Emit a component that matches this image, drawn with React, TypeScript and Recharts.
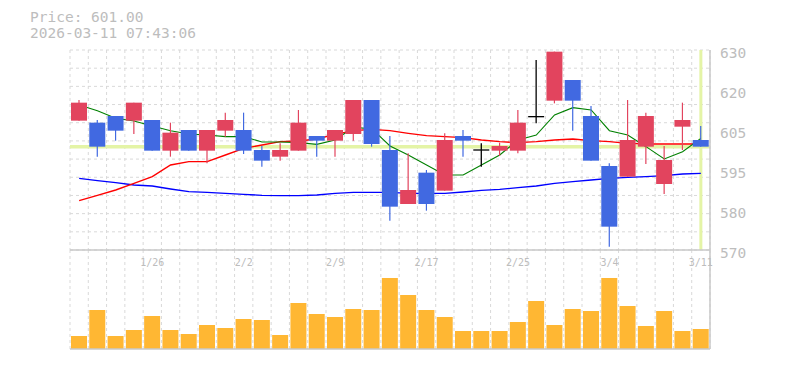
import React from "react";
import {
  Bar,
  CartesianGrid,
  ComposedChart,
  Line,
  ReferenceLine,
  XAxis,
  YAxis,
} from "recharts";

// 35 trading days, 1/20 – 3/11
const DATES = [
  "1/20", "1/21", "1/22", "1/23",
  "1/26", "1/27", "1/28", "1/29", "1/30",
  "2/2", "2/3", "2/4", "2/5", "2/6",
  "2/9", "2/10", "2/12", "2/13",
  "2/16", "2/17", "2/18", "2/19", "2/20",
  "2/24", "2/25", "2/26", "2/27",
  "3/2", "3/3", "3/4", "3/5", "3/6",
  "3/9", "3/10", "3/11",
];

const OPEN = [
  608.8, 608.2, 610.2, 608.8, 609, 599.8, 606, 599.8, 605.8, 606,
  600, 598, 599.8, 604.2, 602.8, 604.8, 615, 600, 583.8, 593.2,
  587.8, 604.2, 600, 599.8, 599.8, 610, 614.8, 621, 610.2, 595.2,
  592, 601, 589.8, 607, 603,
];
const HIGH = [
  615, 609, 610.2, 614.2, 609, 608.2, 606, 606, 611.2, 611.2,
  601.2, 602, 612, 604.2, 606, 615, 615, 604.2, 599, 594,
  605, 606, 602, 602.2, 612, 627, 629.5, 621, 613.2, 596,
  615, 611.2, 601.2, 614.2, 607.2,
];
const LOW = [
  608.8, 598, 602.8, 604.8, 599.8, 598, 599.8, 596, 604, 598.8,
  595, 596.8, 599.8, 598, 598, 602.8, 601, 578.8, 583.8, 581.8,
  587.8, 598, 595, 598.2, 599, 608, 614, 605.8, 596.8, 571,
  592, 595.8, 586.8, 600, 601,
];
const CLOSE = [
  614.2, 601, 605.8, 614.2, 599.8, 605.2, 599.8, 606, 609, 599.8,
  596.8, 600, 608.2, 602.8, 606, 615, 601.8, 583, 588, 583.8,
  603, 602.8, 600, 601.2, 608.2, 610, 629.5, 614.8, 596.8, 577,
  603, 610.2, 597, 609, 601,
];

// moving averages: short (green), mid (red), long (blue)
const MA_SHORT = [
  613.5, 611.8, 609.5, 608.7, 607.2, 605.8, 604.8, 604.5, 604, 604,
  602.4, 602.4, 602.2, 601.7, 603, 606.8, 606.4, 601.2, 598.5, 595.5,
  592.5, 592.5, 595.5, 598.5, 603, 604.5, 610.5, 612.7, 612, 605.8,
  604.5, 601, 597.3, 599.5, 603.5,
];
const MA_MID = [
  584.8, 586.4, 588, 590, 592, 595.5, 596.5, 596.5, 598.5, 600.5,
  601.5, 602.5, 602.7, 603.3, 604.7, 605.8, 606.2, 605.8, 605, 604.3,
  604, 603.7, 603, 602.5, 602.2, 602.5, 603, 603.3, 602.8, 602.5,
  602, 601.8, 601.8, 601.8, 601.8,
];
const MA_LONG = [
  591.5, 590.8, 590.2, 589.5, 589.2, 588.3, 587.5, 587.3, 587, 586.7,
  586.4, 586.3, 586.3, 586.5, 587, 587.3, 587.3, 587.3, 587, 587,
  587, 587.4, 587.9, 588.2, 588.7, 589.2, 590, 590.5, 591, 591.5,
  591.8, 592, 592.3, 592.8, 593,
];

const VOLUME = [
  13, 39, 13, 19, 33, 19, 15, 24, 21, 30,
  29, 14, 46, 35, 32, 40, 39, 71, 54, 39,
  32, 18, 18, 18, 27, 48, 24, 40, 38, 71,
  43, 23, 38, 18, 20,
];

const LAST_PRICE = 601;
const PRICE_TEXT = "Price: 601.00";
const TIME_TEXT = "2026-03-11 07:43:06";

const Y_TICKS = [570, 582, 594, 606, 618, 630];
const Y_TICK_LABELS = ["570", "580", "595", "605", "620", "630"];
const X_TICK_DATES = ["1/26", "2/2", "2/9", "2/17", "2/25", "3/4", "3/11"];

const PRICE_MIN = 570;
const PRICE_MAX = 630;

const data = DATES.map((d, i) => ({
  i,
  date: d,
  open: OPEN[i],
  high: HIGH[i],
  low: LOW[i],
  close: CLOSE[i],
  ma1: MA_SHORT[i],
  ma2: MA_MID[i],
  ma3: MA_LONG[i],
  vol: VOLUME[i],
}));

const X_TICKS = X_TICK_DATES.map((d) => DATES.indexOf(d));
const SLOT_EDGES = Array.from({ length: DATES.length + 1 }, (_, k) => k - 0.5);
const GRID_Y = Array.from(
  { length: 12 },
  (_, k) => PRICE_MIN + ((PRICE_MAX - PRICE_MIN) * k) / 11
);
const X_DOMAIN = [-0.5, DATES.length - 0.5];

const UP = "#e2445e";
const DOWN = "#4169e1";
const AXIS = "#c8c8c8";
const GRID = "#d9d9d9";
const LABEL = "#bdbdbd";
const CURRENT = "#e4f4a6";
const MONO = "'DejaVu Sans Mono', monospace";

const PRICE_MARGIN = { top: 50, right: 75, bottom: 25, left: 70 };

function Candle(props: any) {
  const { x, y, width, height, payload } = props;
  const { open, close, high, low } = payload;
  const top = Math.min(y, y + height);
  const span = Math.abs(height);
  const k = span / (high - low);
  const py = (v: number) => top + (high - v) * k;
  const cx = x + width / 2;

  if (open === close) {
    const yy = py(open);
    return (
      <g>
        <line x1={cx} x2={cx} y1={top} y2={top + span} stroke="#000" strokeWidth={1.3} />
        <line x1={x} x2={x + width} y1={yy} y2={yy} stroke="#000" strokeWidth={1.3} />
      </g>
    );
  }
  const color = close > open ? UP : DOWN;
  const bt = py(Math.max(open, close));
  const bb = py(Math.min(open, close));
  return (
    <g>
      <line x1={cx} x2={cx} y1={top} y2={top + span} stroke={color} strokeWidth={1.2} />
      <rect x={x} y={bt} width={width} height={Math.max(1, bb - bt)} fill={color} />
    </g>
  );
}

function PriceTick(props: any) {
  const { x, y, payload } = props;
  const idx = Y_TICKS.indexOf(payload.value);
  return (
    <text x={x + 10} y={y + 3} fill={LABEL} fontSize={14.5} fontFamily={MONO} dominantBaseline="central" textAnchor="start">
      {Y_TICK_LABELS[idx]}
    </text>
  );
}

function DateTick(props: any) {
  const { x, y, payload } = props;
  return (
    <text x={x} y={y + 12} fill={LABEL} fontSize={10} fontFamily={MONO} dominantBaseline="central" textAnchor="middle">
      {DATES[payload.value]}
    </text>
  );
}

export default function App() {
  return (
    <div style={{ position: "absolute", left: 0, top: 0, width: 785, height: 370, background: "#fff" }}>
      <div
        style={{
          position: "absolute",
          left: 30,
          top: 9,
          fontFamily: MONO,
          fontSize: 14.5,
          lineHeight: "16px",
          color: LABEL,
          whiteSpace: "pre",
        }}
      >
        {PRICE_TEXT}
        <br />
        {TIME_TEXT}
      </div>

      {/* volume */}
      <div style={{ position: "absolute", left: 0, top: 250 }}>
        <ComposedChart width={785} height={101} data={data} margin={{ top: 0, right: 75, bottom: 2, left: 70 }}>
          <XAxis dataKey="i" type="number" domain={X_DOMAIN} ticks={SLOT_EDGES} interval={0} hide />
          <YAxis domain={[0, 99]} hide allowDataOverflow />
          <CartesianGrid horizontal={false} stroke={GRID} strokeDasharray="3 3" />
          <ReferenceLine y={0} stroke={AXIS} strokeWidth={1.5} />
          <ReferenceLine x={X_DOMAIN[1]} stroke={AXIS} strokeWidth={1.5} />
          <Bar dataKey="vol" fill="#ffb733" barSize={16} isAnimationActive={false} />
        </ComposedChart>
      </div>

      {/* price: grid, current-price lines and moving averages (behind candles) */}
      <div style={{ position: "absolute", left: 0, top: 0 }}>
        <ComposedChart width={785} height={275} data={data} margin={PRICE_MARGIN}>
          <XAxis dataKey="i" type="number" domain={X_DOMAIN} ticks={SLOT_EDGES} interval={0} hide />
          <YAxis domain={[PRICE_MIN, PRICE_MAX]} ticks={GRID_Y} interval={0} allowDataOverflow hide />
          <CartesianGrid stroke={GRID} strokeDasharray="3 3" />
          <ReferenceLine y={LAST_PRICE} stroke={CURRENT} strokeWidth={3.5} />
          <ReferenceLine x={DATES.length - 1} stroke={CURRENT} strokeWidth={3} />
          <Line dataKey="ma3" stroke="#0000ff" strokeWidth={1.4} dot={false} isAnimationActive={false} />
          <Line dataKey="ma2" stroke="#ff0000" strokeWidth={1.4} dot={false} isAnimationActive={false} />
          <Line dataKey="ma1" stroke="#008000" strokeWidth={1.1} dot={false} isAnimationActive={false} />
        </ComposedChart>
      </div>

      {/* price: candles and axes */}
      <div style={{ position: "absolute", left: 0, top: 0 }}>
        <ComposedChart width={785} height={275} data={data} margin={{ top: 50, right: 0, bottom: 0, left: 70 }}>
          <XAxis
            dataKey="i"
            type="number"
            domain={X_DOMAIN}
            ticks={X_TICKS}
            height={25}
            tickSize={0}
            tickMargin={0}
            tickLine={false}
            axisLine={{ stroke: AXIS, strokeWidth: 1.5 }}
            tick={<DateTick />}
            interval={0}
          />
          <YAxis
            orientation="right"
            width={75}
            domain={[PRICE_MIN, PRICE_MAX]}
            ticks={Y_TICKS}
            allowDataOverflow
            tickSize={0}
            tickMargin={0}
            tickLine={false}
            axisLine={{ stroke: AXIS, strokeWidth: 1.5 }}
            tick={<PriceTick />}
            interval={0}
          />
          <Bar
            dataKey={(d: any) => [d.low, d.high]}
            barSize={16}
            shape={<Candle />}
            isAnimationActive={false}
          />
        </ComposedChart>
      </div>
    </div>
  );
}
